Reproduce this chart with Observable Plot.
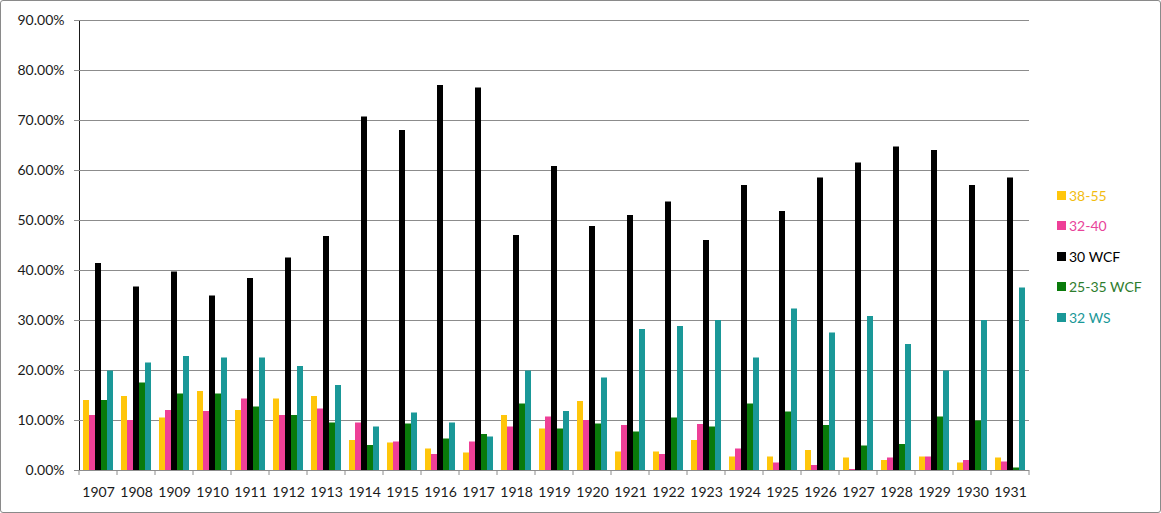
<!DOCTYPE html>
<html><head><meta charset="utf-8">
<script src="https://cdn.jsdelivr.net/npm/d3@7"></script>
<script src="https://cdn.jsdelivr.net/npm/@observablehq/plot@0.6"></script>
<style>
body{margin:0;background:#fff;}
#wrap{position:relative;width:1161px;height:513px;font-family:Lato,"Open Sans",sans-serif;overflow:hidden;}
#chart svg{display:block;}
#border{position:absolute;left:0;top:0;width:1161px;height:513px;box-sizing:border-box;border:1px solid #8a8a8a;border-radius:3px;pointer-events:none;}
#legend{position:absolute;left:1057px;top:180px;font-size:14px;}
.item{display:flex;align-items:center;height:30.5px;}
.sw{width:9px;height:9px;margin-right:3px;flex:none;}
</style></head><body>
<div id="wrap"><div id="chart"></div><div id="legend"></div><div id="border"></div></div>
<script>
const years = ["1907","1908","1909","1910","1911","1912","1913","1914","1915","1916","1917","1918","1919","1920","1921","1922","1923","1924","1925","1926","1927","1928","1929","1930","1931"];
const seriesNames = ["38-55","32-40","30 WCF","25-35 WCF","32 WS"];
const seriesColors = ["#FFC60B","#EE3F97","#000000","#097A0A","#1A9898"];
const legendTextColors = ["#F2BC10","#E8449A","#000000","#2E7D2E","#1A9898"];
const s3855 = [14.0,14.8,10.5,15.8,12.0,14.3,14.8,6.0,5.5,4.3,3.5,11.0,8.3,13.8,3.7,3.7,6.0,2.7,2.7,4.0,2.5,2.0,2.7,1.5,2.5];
const s3240 = [11.0,10.0,12.0,11.8,14.3,11.0,12.3,9.5,5.7,3.2,5.7,8.7,10.7,10.0,9.0,3.2,9.2,4.3,1.5,1.0,0.2,2.5,2.7,2.0,1.7];
const s30wcf = [41.4,36.7,39.7,34.9,38.4,42.5,46.8,70.7,68.0,77.0,76.5,47.0,60.8,48.8,51.0,53.7,46.0,57.0,51.8,58.5,61.5,64.7,64.0,57.0,58.5];
const s2535wcf = [14.0,17.5,15.3,15.3,12.7,11.0,9.5,5.0,9.3,6.3,7.2,13.3,8.3,9.3,7.7,10.5,8.7,13.3,11.7,9.0,4.9,5.2,10.7,9.9,0.5];
const s32ws = [19.9,21.5,22.8,22.5,22.5,20.8,17.0,8.7,11.5,9.5,6.7,19.9,11.8,18.5,28.2,28.8,30.0,22.5,32.3,27.5,30.8,25.2,19.9,30.0,36.5];
const yTicks = [0,10,20,30,40,50,60,70,80,90];

const seriesValues = [s3855, s3240, s30wcf, s2535wcf, s32ws];
const rows = [];
years.forEach((yr, i) => seriesNames.forEach((s, j) => rows.push({year: yr, series: s, value: seriesValues[j][i]})));

const gridColor = "#8c8c8c";
const plot = Plot.plot({
  width: 1161, height: 513,
  marginLeft: 78, marginRight: 131, marginTop: 20, marginBottom: 43,
  style: {fontFamily: "Lato, 'Open Sans', sans-serif", fontSize: "14px", color: "#1a1a1a", background: "transparent", overflow: "visible"},
  fx: {domain: years, paddingInner: 0, paddingOuter: 0, label: null, axis: "bottom", tickSize: 0, tickPadding: 17, tickFormat: d => d},
  x: {domain: seriesNames, paddingInner: 0, paddingOuter: 0.65, axis: null},
  y: {domain: [0, 90], ticks: yTicks, tickFormat: d => d.toFixed(2) + "%", label: null, tickSize: 5, tickPadding: 10, line: true},
  color: {domain: seriesNames, range: seriesColors},
  marks: [
    Plot.ruleY(yTicks.slice(1), {stroke: gridColor, strokeWidth: 1}),
    Plot.barY(rows, {fx: "year", x: "series", y: "value", fill: "series"}),
    Plot.ruleY([0], {stroke: gridColor, strokeWidth: 1})
  ]
});
document.getElementById("chart").appendChild(plot);

const svg = d3.select(plot);
svg.selectAll('[aria-label="y-axis tick"] path, [aria-label="y-axis tick"] line').attr("stroke", gridColor);
svg.selectAll('[aria-label="y-axis tick"]').attr("stroke", gridColor);
svg.selectAll('[aria-label="y-axis line"]').attr("stroke", gridColor);
svg.selectAll('[aria-label^="y-axis"] path, [aria-label^="y-axis"] line').attr("stroke", gridColor);

// boundary ticks below the category axis, positioned from the fx and y scales
const fx = plot.scale("fx"), ys = plot.scale("y");
const y0 = ys.apply(0);
const bounds = years.map(yr => fx.apply(yr)).concat([fx.apply(years[years.length - 1]) + fx.bandwidth]);
svg.append("g").attr("stroke", gridColor)
  .selectAll("line").data(bounds).join("line")
  .attr("x1", d => d).attr("x2", d => d).attr("y1", y0).attr("y2", y0 + 5);

// legend
const leg = d3.select("#legend");
seriesNames.forEach((s, j) => {
  const it = leg.append("div").attr("class", "item");
  it.append("div").attr("class", "sw").style("background", seriesColors[j]);
  it.append("span").style("color", legendTextColors[j]).text(s);
});
</script>
</body></html>
